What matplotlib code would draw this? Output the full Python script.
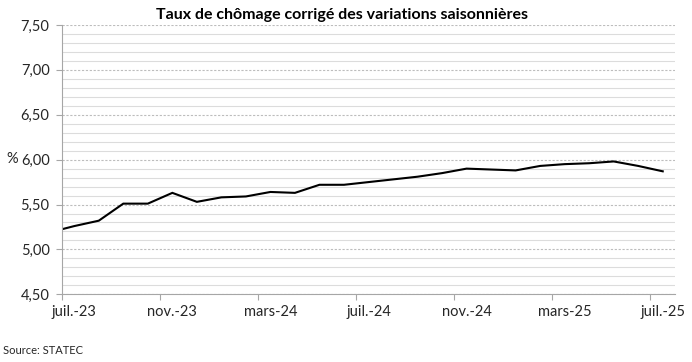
import matplotlib
matplotlib.use("Agg")
import matplotlib.pyplot as plt
from matplotlib.ticker import MultipleLocator, FixedLocator, FuncFormatter

# monthly categories (first one sits just left of the visible axis)
months = ["juin-23", "juil.-23", "août-23", "sept.-23", "oct.-23", "nov.-23", "déc.-23",
          "janv.-24", "févr.-24", "mars-24", "avr.-24", "mai-24", "juin-24",
          "juil.-24", "août-24", "sept.-24", "oct.-24", "nov.-24", "déc.-24",
          "janv.-25", "févr.-25", "mars-25", "avr.-25", "mai-25", "juin-25", "juil.-25"]
rate = [5.19, 5.26, 5.32, 5.51, 5.51, 5.63, 5.53,
        5.58, 5.59, 5.64, 5.63, 5.72, 5.72,
        5.75, 5.78, 5.81, 5.85, 5.90, 5.89,
        5.88, 5.93, 5.95, 5.96, 5.98, 5.93, 5.87]
label_months = ["juil.-23", "nov.-23", "mars-24", "juil.-24", "nov.-24", "mars-25", "juil.-25"]

plt.rcParams['font.family'] = ['Lato', 'DejaVu Sans']

fig = plt.figure(figsize=(6.92, 3.62), dpi=100)
ax = fig.add_axes([62 / 692, 1 - 294.3 / 362, (675 - 62) / 692, (294.3 - 25) / 362])

x = [i - 1 for i in range(len(months))]
ax.plot(x, rate, color="black", lw=1.5, solid_joinstyle="miter", clip_on=True)

ax.set_xlim(-0.5, 24.5)
ax.set_ylim(4.5, 7.5)

# y grid: dashed majors, light solid minors
ax.yaxis.set_major_locator(MultipleLocator(0.5))
ax.yaxis.set_minor_locator(MultipleLocator(0.1))
ax.yaxis.set_major_formatter(FuncFormatter(lambda v, p: f"{v:.2f}".replace(".", ",")))
ax.grid(axis="y", which="minor", color="#dcdcdc", lw=0.8, ls="-")
ax.grid(axis="y", which="major", color="#bdbdbd", lw=0.8, ls=(0, (2, 1.5)))
ax.set_axisbelow(True)

# x axis: tick marks between categories, labels on categories
label_pos = [months.index(m) - 1 for m in label_months]
ax.xaxis.set_major_locator(FixedLocator([p - 0.5 for p in label_pos]))
ax.set_xticklabels([])
ax.xaxis.set_minor_locator(FixedLocator(label_pos))
ax.set_xticklabels(label_months, minor=True)
ax.tick_params(axis="x", which="major", length=4, color="#a6a6a6", width=0.8)
ax.tick_params(axis="x", which="minor", length=0, labelsize=10.5, pad=8, colors="#262626")
ax.tick_params(axis="y", which="major", length=4, color="#a6a6a6", width=0.8,
               labelsize=10.5, colors="#262626", pad=5)
ax.tick_params(axis="y", which="minor", length=0)

for s in ["top", "right"]:
    ax.spines[s].set_visible(False)
for s in ["left", "bottom"]:
    ax.spines[s].set_color("#a6a6a6")
    ax.spines[s].set_linewidth(0.8)

fig.text(12 / 692, 1 - 159 / 362, "%", ha="center", va="center", fontsize=10.5,
         color="#262626")
fig.text(342 / 692, 1 - 15 / 362, "Taux de chômage corrigé des variations saisonnières",
         ha="center", va="center", fontsize=11.5, fontweight="bold", color="black")
fig.text(3 / 692, 1 - 351 / 362, "Source: STATEC", ha="left", va="center",
         fontsize=8, color="#262626")

fig.savefig("out.png", dpi=100)
